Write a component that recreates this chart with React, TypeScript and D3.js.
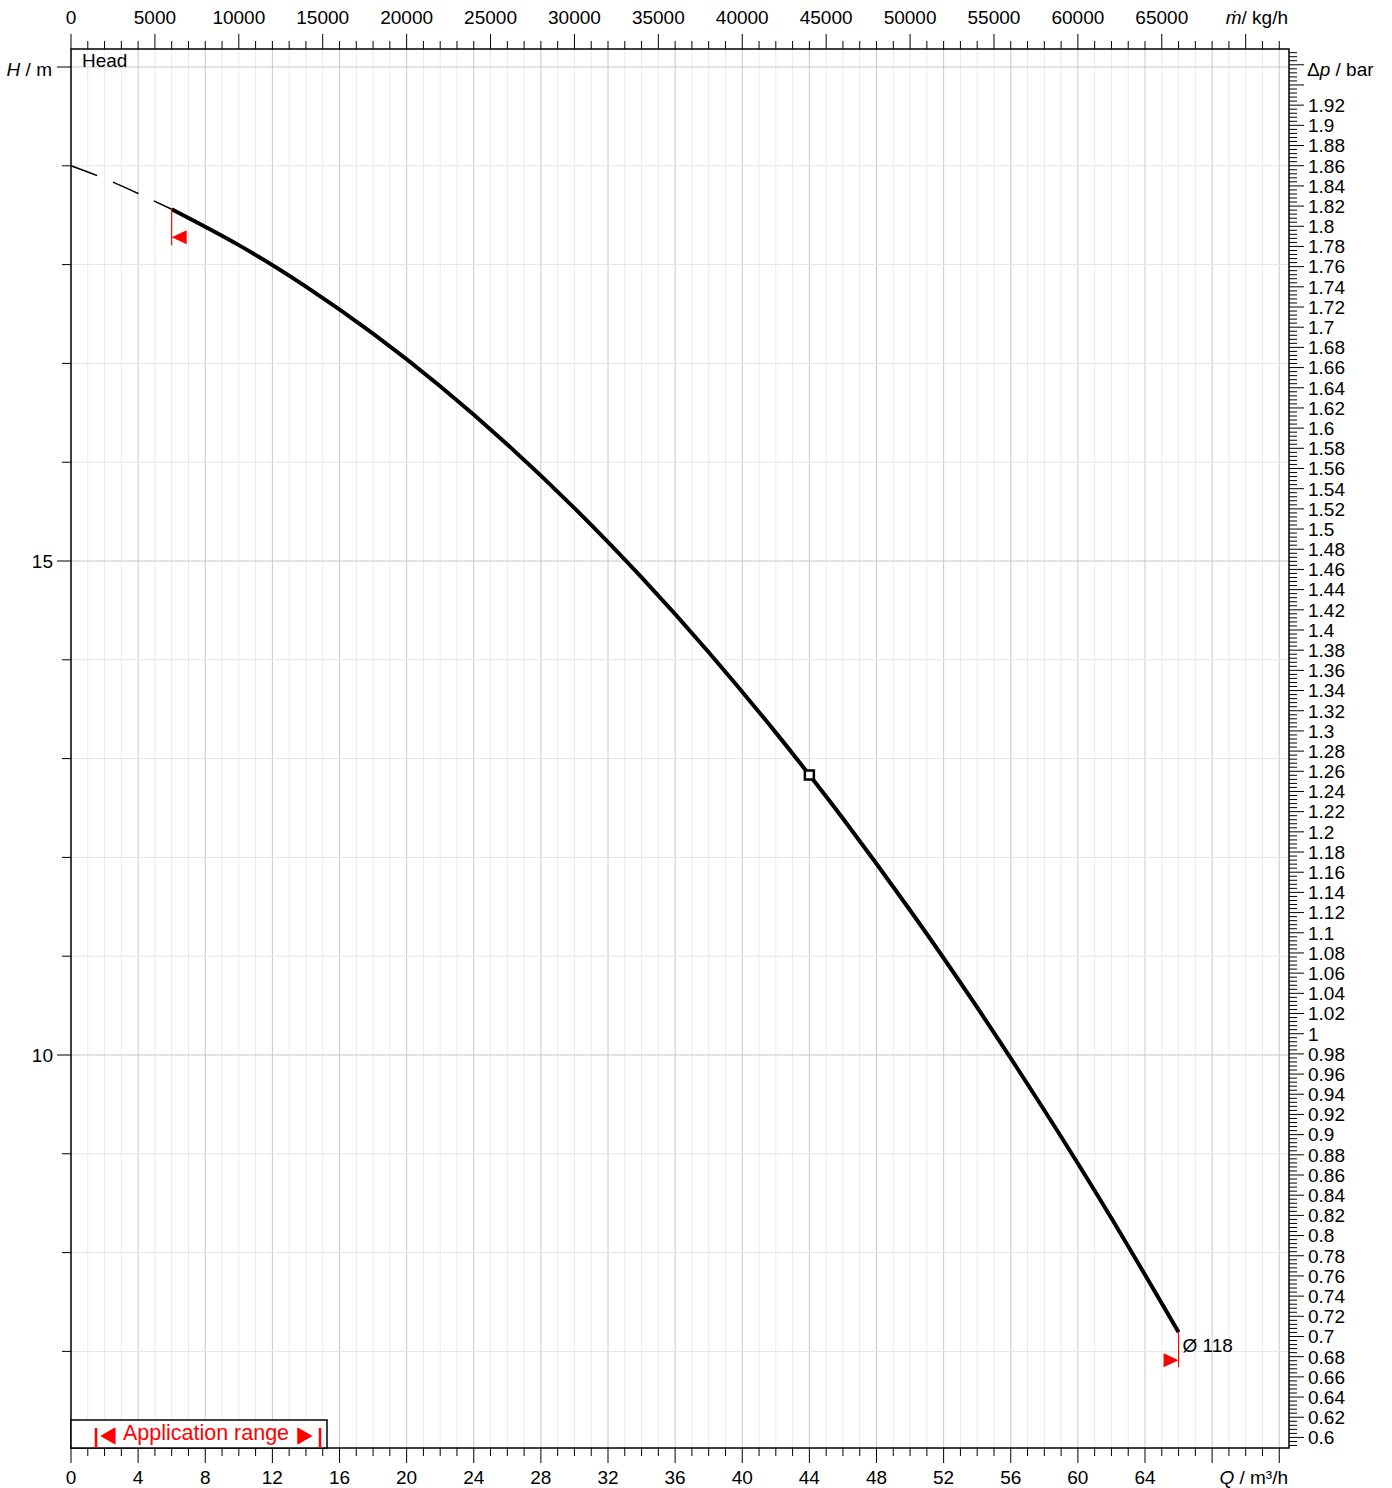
import React from "react";
import * as d3 from "d3";

// ---- data ----
const Q_DASHED = [0, 2, 4, 6];
const H_DASHED = [19.0, 18.87, 18.72, 18.56];

const Q_CURVE = [6, 10, 14, 18, 22, 26, 30, 34, 38, 42, 44, 46, 50, 54, 58, 62, 66];
const H_CURVE = [18.56, 18.197, 17.777, 17.301, 16.769, 16.180, 15.535, 14.834, 14.076, 13.263, 12.834, 12.393, 11.465, 10.481, 9.441, 8.348, 7.195];

const DUTY_POINT = { q: 44, h: 12.834 };
const CURVE_END = { q: 66, h: 7.195, label: "Ø 118" };
const CURVE_START_Q = 6;

const Q_TICK_LABELS = [0, 4, 8, 12, 16, 20, 24, 28, 32, 36, 40, 44, 48, 52, 56, 60, 64];
const M_TICK_LABELS = [0, 5000, 10000, 15000, 20000, 25000, 30000, 35000, 40000, 45000, 50000, 55000, 60000, 65000];
const H_TICK_LABELS = [10, 15];
const DP_TICK_LABELS = d3.range(30, 97).map((i) => Math.round(i * 2) / 100);

const DENSITY = 998.2; // kg/m3
const G = 9.80665;
const M_PER_BAR = 100000 / (DENSITY * G);

const FONT = "'Liberation Sans', Arial, Helvetica, sans-serif";
const FS = 19;

export default function App() {
  const left = 71, right = 1289, top = 49, bottom = 1448;
  const pxPerQ = (1145 - 71) / 64;
  const qMax = (right - left) / pxPerQ;
  const x = d3.scaleLinear().domain([0, qMax]).range([left, right]);
  const pxPerM = (1055 - 561) / 5;
  const hTop = 15 + (561 - top) / pxPerM;
  const hBot = 10 - (bottom - 1055) / pxPerM;
  const y = d3.scaleLinear().domain([hBot, hTop]).range([bottom, top]);
  const yDp = d3.scaleLinear().domain([hBot / M_PER_BAR, hTop / M_PER_BAR]).range([bottom, top]);
  const xM = d3.scaleLinear().domain([0, qMax]).range([left, right]);
  const mToQ = (m: number) => m / 1000;

  const qMinor = d3.range(1, Math.floor(qMax) + 1);
  const hMinor = d3.range(Math.ceil(hBot), Math.floor(hTop) + 1);
  const mMinor = d3.range(0, qMax * 1000, 1000);
  const dpLo = Math.ceil((hBot / M_PER_BAR) / 0.004 - 1e-6);
  const dpHi = Math.floor((hTop / M_PER_BAR) / 0.004 + 1e-6);
  const dpMinor = d3.range(dpLo, dpHi + 1).map((i) => i * 0.004);

  const line = d3
    .line<number>()
    .x((_, i) => x(Q_CURVE[i]))
    .y((d) => y(d))
    .curve(d3.curveNatural);
  const dashLine = d3
    .line<number>()
    .x((_, i) => x(Q_DASHED[i]))
    .y((d) => y(d))
    .curve(d3.curveNatural);

  const sx = x(CURVE_START_Q), sy = y(H_CURVE[0]);
  const ex = x(CURVE_END.q), ey = y(CURVE_END.h);

  return (
    <svg width={1392} height={1488} style={{ position: "absolute", left: 0, top: 0, background: "#fff" }} fontFamily={FONT}>
      <rect x={0} y={0} width={1392} height={1488} fill="#fff" />
      {/* grid */}
      {qMinor.map((q) => (
        <line key={"gq" + q} x1={x(q)} x2={x(q)} y1={top} y2={bottom}
          stroke={q % 4 === 0 ? "#c8c8c8" : "#ebebeb"} strokeWidth={1} />
      ))}
      {hMinor.map((h) => (
        <line key={"gh" + h} x1={left} x2={right} y1={y(h)} y2={y(h)}
          stroke={h % 5 === 0 ? "#c8c8c8" : "#e6e6e6"} strokeWidth={1} />
      ))}

      {/* frame */}
      <rect x={left} y={top} width={right - left} height={bottom - top} fill="none" stroke="#000" strokeWidth={1.5} />

      {/* bottom axis */}
      {d3.range(0, Math.floor(qMax) + 1).map((q) => (
        <line key={"bt" + q} x1={x(q)} x2={x(q)} y1={bottom} y2={bottom + (q % 4 === 0 ? 15 : 8)} stroke="#000" strokeWidth={1} />
      ))}
      {Q_TICK_LABELS.map((q) => (
        <text key={"bl" + q} x={x(q)} y={1484} textAnchor="middle" fontSize={FS}>{q}</text>
      ))}
      <text x={1288} y={1484} textAnchor="end" fontSize={FS}>
        <tspan fontStyle="italic">Q</tspan> / m³/h
      </text>

      {/* top axis */}
      {mMinor.map((m) => (
        <line key={"tt" + m} x1={xM(mToQ(m))} x2={xM(mToQ(m))} y1={top} y2={top - (m % 5000 === 0 ? 15 : 8)} stroke="#000" strokeWidth={1} />
      ))}
      {M_TICK_LABELS.map((m) => (
        <text key={"tl" + m} x={xM(mToQ(m))} y={24} textAnchor="middle" fontSize={FS}>{m}</text>
      ))}
      <text x={1288} y={24} textAnchor="end" fontSize={FS}>
        <tspan fontStyle="italic">ṁ</tspan>/ kg/h
      </text>

      {/* left axis */}
      {hMinor.map((h) => (
        <line key={"lt" + h} x1={left} x2={left - (h % 5 === 0 ? 14 : 9)} y1={y(h)} y2={y(h)} stroke="#000" strokeWidth={1} />
      ))}
      {H_TICK_LABELS.map((h) => (
        <text key={"ll" + h} x={53} y={y(h)} dy="0.36em" textAnchor="end" fontSize={FS}>{h}</text>
      ))}
      <text x={52} y={y(20) + 2} dy="0.36em" textAnchor="end" fontSize={FS}>
        <tspan fontStyle="italic">H</tspan> / m
      </text>

      {/* right axis */}
      {dpMinor.map((p, i) => {
        const major = Math.abs(p / 0.02 - Math.round(p / 0.02)) < 1e-6;
        return (
          <line key={"rt" + i} x1={right} x2={right + (major ? 15 : 8)} y1={yDp(p)} y2={yDp(p)} stroke="#000" strokeWidth={1} />
        );
      })}
      {DP_TICK_LABELS.map((p) => (
        <text key={"rl" + p} x={1308} y={yDp(p)} dy="0.36em" textAnchor="start" fontSize={FS}>{String(p)}</text>
      ))}
      <text x={1307} y={69} dy="0.36em" textAnchor="start" fontSize={FS}>
        Δ<tspan fontStyle="italic">p</tspan> / bar
      </text>

      <text x={82} y={67} fontSize={FS}>Head</text>

      {/* curve */}
      <path d={dashLine(H_DASHED) || ""} fill="none" stroke="#000" strokeWidth={1.5} strokeDasharray="28 17" />
      <path d={line(H_CURVE) || ""} fill="none" stroke="#000" strokeWidth={4} strokeLinejoin="round" />

      {/* start marker */}
      <line x1={sx} x2={sx} y1={sy} y2={sy + 36} stroke="#f00" strokeWidth={1.2} />
      <path d={`M${sx},${sy + 28} L${sx + 15},${sy + 21} L${sx + 15},${sy + 35} Z`} fill="#f00" />

      {/* end marker */}
      <line x1={ex} x2={ex} y1={ey} y2={ey + 35} stroke="#f00" strokeWidth={1.2} />
      <path d={`M${ex},${ey + 28} L${ex - 15},${ey + 21} L${ex - 15},${ey + 35} Z`} fill="#f00" />
      <text x={ex + 4} y={ey + 20} fontSize={FS}>{CURVE_END.label}</text>

      {/* duty point */}
      <rect x={x(DUTY_POINT.q) - 4.5} y={y(DUTY_POINT.h) - 4.5} width={9} height={9} fill="#fff" stroke="#000" strokeWidth={2.5} />

      {/* application range legend */}
      <rect x={left} y={1420} width={256} height={28} fill="#fff" stroke="#000" strokeWidth={1.5} />
      <line x1={96} x2={96} y1={1428} y2={1448} stroke="#f00" strokeWidth={2.5} />
      <line x1={320} x2={320} y1={1428} y2={1448} stroke="#f00" strokeWidth={2.5} />
      <text transform="translate(108,1445) scale(1,1.75)" x={0} y={0} textAnchor="middle" fontSize={20} fill="#f00" fontFamily="'DejaVu Sans', sans-serif">◄</text>
      <text x={206} y={1440} textAnchor="middle" fontSize={21.5} fill="#f00">Application range</text>
      <text transform="translate(305,1445) scale(1,1.75)" x={0} y={0} textAnchor="middle" fontSize={20} fill="#f00" fontFamily="'DejaVu Sans', sans-serif">►</text>
    </svg>
  );
}
